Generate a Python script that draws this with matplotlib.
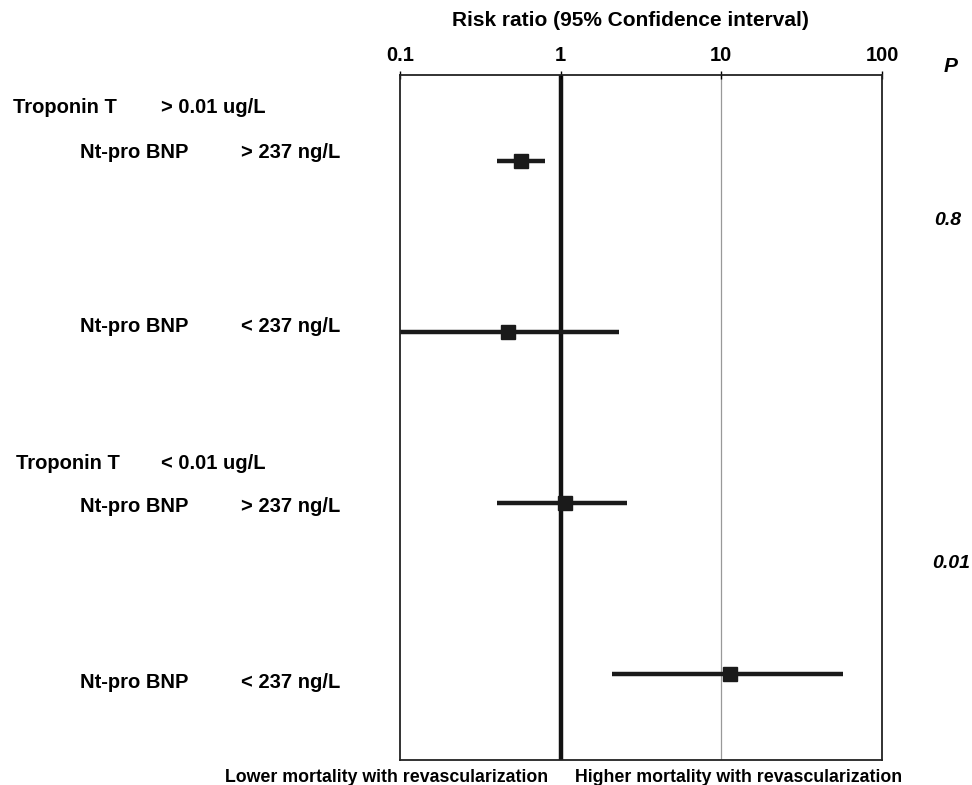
import numpy as np
import matplotlib.pyplot as plt
import matplotlib.transforms as mtransforms

plt.rcParams['font.family'] = ['Liberation Sans', 'DejaVu Sans']

# risk ratios and 95% CI, top to bottom
rr = [0.57, 0.47, 1.07, 11.3]
ci_low = [0.40, 0.10, 0.40, 2.1]
ci_high = [0.80, 2.30, 2.60, 57.0]
bnp_labels = ['> 237 ng/L', '< 237 ng/L', '> 237 ng/L', '< 237 ng/L']
trop_labels = ['> 0.01 ug/L', '< 0.01 ug/L']
p_values = ['0.8', '0.01']
ticks = [0.1, 1, 10, 100]
tick_labels = ['0.1', '1', '10', '100']


def run_main():
    fig = plt.figure(figsize=(9.72, 7.85), dpi=100)
    ax = fig.add_axes([0.4115, 0.0318, 0.4959, 0.8726])

    ypos = np.arange(len(rr)) + 0.5

    ax.axvline(1, color='#111111', lw=3.2, zorder=1)
    ax.axvline(10, color='#999999', lw=0.9, zorder=1)

    ax.hlines(ypos, ci_low, ci_high, color='#1a1a1a', lw=3.2, zorder=2)
    ax.plot(rr, ypos, 's', color='#1a1a1a', ms=10.5, zorder=3)

    ax.set_xscale('log')
    ax.set_xlim(0.1, 100)
    ax.set_ylim(4, 0)
    ax.set_yticks([])
    ax.minorticks_off()
    ax.xaxis.set_ticks_position('top')
    ax.set_xticks(ticks)
    ax.set_xticklabels(tick_labels, fontsize=14.5, fontweight='bold')
    ax.tick_params(axis='x', direction='inout', length=6, width=1, pad=4)
    for s in ax.spines.values():
        s.set_linewidth(1.3)
        s.set_color('#222222')

    fig.text(452 / 972, 1 - 20 / 785, 'Risk ratio (95% Confidence interval)',
             ha='left', va='center', fontsize=15, fontweight='bold')
    fig.text(951 / 972, 1 - 67 / 785, 'P', ha='center', va='center',
             fontsize=15, fontweight='bold', style='italic')

    # left labels: x in figure fraction, y in data units
    tr = mtransforms.blended_transform_factory(fig.transFigure, ax.transData)
    kw = dict(fontsize=14.5, fontweight='bold', va='center', ha='left',
              transform=tr)
    for i, lab in enumerate(trop_labels):
        y = [0.19, 2.27][i]
        ax.text([13, 16][i] / 972, y, 'Troponin T', **kw)
        ax.text(161 / 972, y, lab, **kw)
    for y, lab in zip([0.455, 1.47, 2.52, 3.55], bnp_labels):
        ax.text(80 / 972, y, 'Nt-pro BNP', **kw)
        ax.text(241 / 972, y, lab, **kw)

    for x, y, p in zip([948, 951], [0.85, 2.85], p_values):
        ax.text(x / 972, y, p, fontsize=14, fontweight='bold',
                style='italic', va='center', ha='center', transform=tr)

    fig.text(225 / 972, 1 - 777 / 785,
             'Lower mortality with revascularization',
             ha='left', va='center', fontsize=12.8, fontweight='bold')
    fig.text(575 / 972, 1 - 777 / 785,
             'Higher mortality with revascularization',
             ha='left', va='center', fontsize=12.8, fontweight='bold')

    fig.savefig('out.png', dpi=100)


if __name__ == "__main__":
    run_main()
